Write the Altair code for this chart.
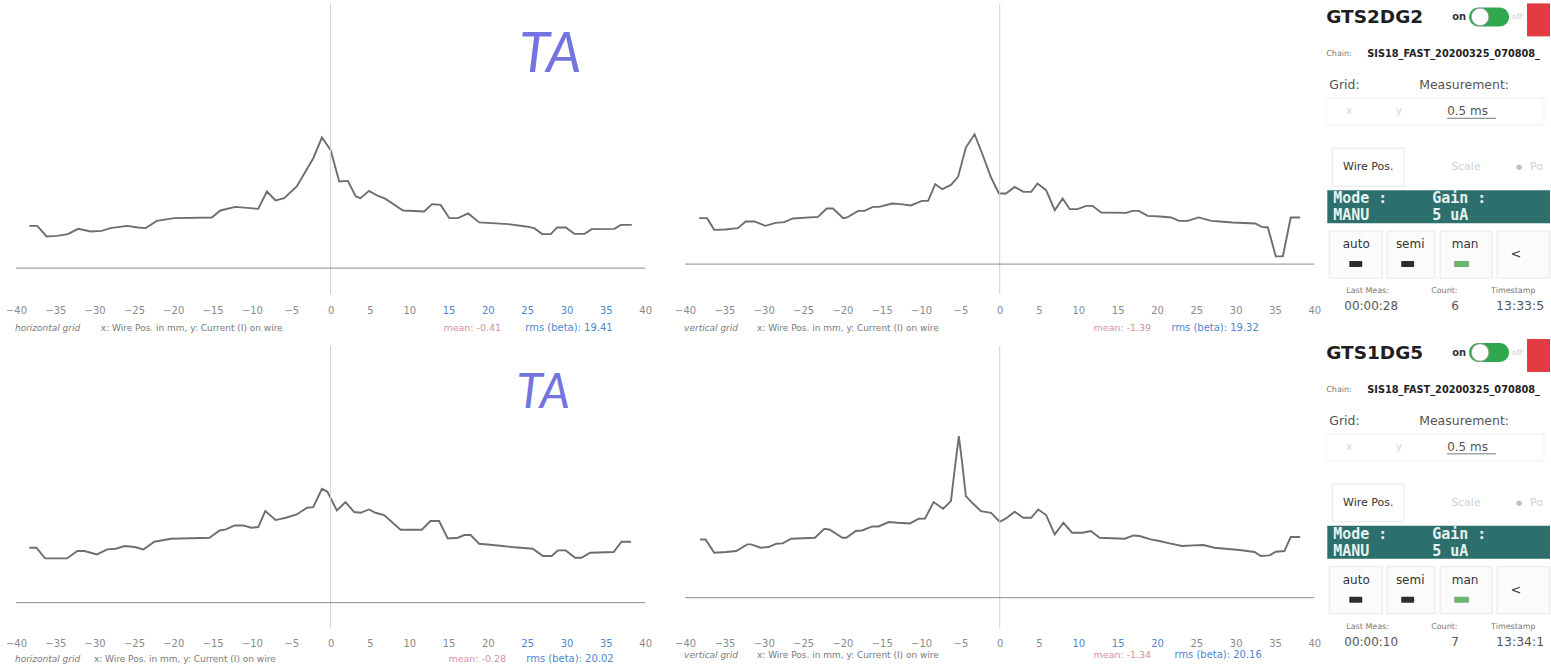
import altair as alt
import pandas as pd

# ---------------- data (read from the scanned profiles) ----------------
TICKS = list(range(-40, 41, 5))

# GTS2DG2 horizontal grid
h1_x = [-38.3, -37.3, -36.1, -34.8, -33.4, -32.1, -30.5, -29.1, -28.0, -25.9,
        -24.5, -23.5, -22.1, -19.9, -15.1, -14.0, -12.1, -9.2, -8.1, -7.0,
        -5.9, -4.3, -2.2, -1.1, 0.0, 1.1, 2.2, 3.2, 3.8, 4.9,
        5.9, 7.0, 9.2, 11.9, 12.9, 14.0, 15.1, 16.2, 17.5, 18.9,
        22.6, 24.8, 25.9, 26.9, 28.0, 28.8, 29.9, 31.0, 32.3, 33.2,
        36.1, 36.9, 38.3]
h1_y = [42.3, 42.3, 31.7, 32.3, 34.0, 39.3, 36.7, 37.3, 40.0, 42.3,
        40.7, 40.0, 47.3, 50.0, 50.7, 57.7, 61.3, 59.3, 76.7, 67.7,
        70.0, 81.7, 110.0, 130.7, 118.3, 86.7, 87.3, 71.7, 70.0, 77.3,
        72.7, 69.3, 57.7, 56.7, 64.0, 63.3, 50.0, 50.0, 54.7, 45.7,
        44.0, 41.7, 40.0, 34.0, 34.0, 40.7, 40.7, 34.3, 34.3, 39.0,
        39.3, 43.3, 43.3]

# GTS2DG2 vertical grid
v1_x = [-38.2, -37.2, -36.3, -34.9, -33.3, -32.3, -31.2, -29.8, -28.5, -27.4,
        -26.3, -23.1, -22.0, -21.2, -19.9, -19.4, -18.0, -17.2, -16.1, -15.3,
        -13.7, -12.6, -11.3, -9.9, -9.1, -8.2, -7.3, -6.2, -5.3, -4.3,
        -3.2, -2.2, -1.1, -0.1, 0.8, 1.9, 3.0, 4.0, 4.8, 5.9,
        7.0, 8.0, 8.9, 9.9, 11.0, 11.8, 12.9, 16.1, 16.9, 17.7,
        18.8, 20.4, 21.8, 22.8, 23.9, 25.3, 26.9, 28.0, 29.6, 32.5,
        33.3, 34.1, 35.1, 36.0, 37.0, 38.2]
v1_y = [46.0, 46.0, 34.3, 34.7, 36.0, 42.7, 42.7, 38.3, 41.3, 42.0,
        45.7, 47.3, 55.7, 55.7, 46.0, 46.7, 53.3, 53.3, 57.3, 57.3,
        60.7, 60.0, 58.7, 63.3, 63.3, 80.0, 75.0, 79.3, 87.3, 116.7,
        130.0, 110.0, 86.7, 70.7, 70.7, 77.3, 72.3, 72.3, 80.7, 74.0,
        54.0, 65.7, 55.0, 55.0, 58.3, 58.3, 51.7, 51.3, 53.3, 53.3,
        48.3, 47.7, 46.7, 43.3, 43.3, 46.7, 43.3, 42.7, 41.7, 40.7,
        37.3, 36.7, 7.7, 7.7, 46.7, 46.7]

# GTS1DG5 horizontal grid
h2_x = [-38.3, -37.4, -36.3, -33.5, -32.2, -31.3, -29.7, -28.4, -27.3, -26.2,
        -24.9, -23.8, -22.4, -20.3, -15.4, -14.1, -13.3, -12.2, -11.1, -10.1,
        -9.2, -8.3, -7.0, -5.7, -4.3, -3.0, -2.2, -1.1, -0.4, 0.8,
        1.9, 3.0, 3.8, 4.9, 5.7, 6.8, 8.9, 11.6, 12.7, 13.8,
        14.9, 16.2, 17.0, 17.8, 18.9, 21.9, 23.0, 25.7, 27.0, 28.1,
        28.9, 29.9, 31.1, 31.9, 33.0, 36.0, 37.0, 38.2]
h2_y = [55.0, 55.0, 44.3, 44.3, 51.7, 51.7, 48.3, 53.3, 54.0, 56.7,
        55.7, 53.3, 61.0, 64.0, 65.0, 72.3, 73.3, 77.3, 77.3, 75.0,
        75.7, 91.7, 82.7, 85.0, 88.3, 95.0, 95.7, 114.0, 111.0, 92.3,
        100.7, 90.7, 90.0, 93.3, 90.0, 87.7, 73.0, 73.0, 81.7, 81.7,
        64.3, 65.0, 67.7, 67.7, 59.0, 56.7, 55.7, 54.0, 46.7, 46.7,
        52.3, 52.3, 45.0, 45.0, 50.0, 50.7, 61.0, 61.0]

# GTS1DG5 vertical grid
v2_x = [-38.1, -37.4, -36.3, -34.8, -33.5, -32.1, -31.6, -30.4, -29.4, -28.4,
        -27.6, -26.5, -23.5, -22.3, -21.6, -20.0, -19.5, -18.3, -17.5, -16.2,
        -15.4, -14.1, -13.0, -11.4, -10.3, -9.5, -8.4, -7.2, -6.2, -5.7,
        -5.2, -4.8, -4.3, -3.5, -2.4, -1.1, 0.0, 0.8, 1.9, 3.0,
        4.0, 4.9, 5.9, 7.0, 8.1, 9.2, 10.5, 11.6, 12.7, 15.9,
        17.0, 17.8, 19.2, 20.3, 21.6, 23.2, 24.6, 25.9, 27.3, 30.5,
        32.4, 33.2, 34.3, 35.1, 36.2, 37.0, 38.2]
v2_y = [58.3, 58.3, 45.0, 45.7, 46.7, 53.3, 53.3, 50.0, 50.7, 54.0,
        54.3, 59.0, 60.0, 69.0, 68.0, 60.0, 60.0, 66.7, 67.3, 71.3,
        71.3, 75.7, 75.0, 74.3, 79.0, 79.3, 95.7, 89.0, 96.7, 130.0,
        161.7, 136.7, 101.7, 95.0, 86.7, 85.0, 76.0, 79.3, 86.0, 80.0,
        80.0, 88.3, 82.7, 63.3, 75.0, 65.0, 65.0, 66.7, 60.0, 59.0,
        62.3, 61.7, 58.3, 56.7, 54.3, 51.7, 52.3, 52.7, 50.0, 47.7,
        45.7, 41.7, 42.3, 46.0, 46.7, 60.7, 60.7]

grid_names = ["horizontal grid", "vertical grid", "horizontal grid", "vertical grid"]
means = ["mean: -0.41", "mean: -1.39", "mean: -0.28", "mean: -1.34"]
rmss = ["rms (beta): 19.41", "rms (beta): 19.32", "rms (beta): 20.02", "rms (beta): 20.16"]
AXIS_TEXT = "x: Wire Pos. in mm,  y: Current (I) on wire"

dev_names = ["GTS2DG2", "GTS1DG5"]
last_meas = ["00:00:28", "00:00:10"]
counts = ["6", "7"]
stamps = ["13:33:5", "13:34:1"]

# ---------------- styling ----------------
LINE = "#6e6e6e"
GRAY = "#8a8a8a"
BLUE = "#4f86cc"
PINK = "#d4909e"
FONT = "DejaVu Sans"
W = 630
H_TOP, H_BOT = 291, 282
SIDE_X0 = 1355
ONE = pd.DataFrame({"k": [0]})
NOVIEW = alt.ViewBackground(stroke="transparent", strokeWidth=0)


def panel(xs, ys, dom, h, idx, foot_dy, xlab_x, mean_x, rms_x, blue_rng=None, ta=None):
    df = pd.DataFrame({"pos": xs, "cur": ys})
    xsc = alt.Scale(domain=[-40, 40], nice=False, zero=False)
    ysc = alt.Scale(domain=dom, nice=False, zero=False)
    if blue_rng:
        lab_col = {"condition": {"test": f"datum.value >= {blue_rng[0]} && datum.value <= {blue_rng[1]}",
                                 "value": BLUE}, "value": GRAY}
    else:
        lab_col = GRAY
    xaxis = alt.Axis(values=TICKS, domain=False, ticks=False, grid=False, title=None,
                     labelColor=lab_col, labelFontSize=10, labelFont=FONT, labelPadding=11,
                     labelFlush=False, labelOverlap=False)
    line = alt.Chart(df).mark_line(color=LINE, strokeWidth=1.9).encode(
        x=alt.X("pos:Q", scale=xsc, axis=xaxis),
        y=alt.Y("cur:Q", scale=ysc, axis=None),
    )
    vrule = alt.Chart(pd.DataFrame({"pos": [0]})).mark_rule(color="#d2d2d2", strokeWidth=1).encode(
        x=alt.X("pos:Q", scale=xsc, axis=xaxis))
    hrule = alt.Chart(pd.DataFrame({"cur": [0]})).mark_rule(color="#8c8c8c", strokeWidth=1).encode(
        y=alt.Y("cur:Q", scale=ysc, axis=None))

    fy = h + foot_dy
    texts = [
        alt.Chart(ONE).mark_text(text=grid_names[idx], fontSize=9, font=FONT, fontStyle="italic",
                                 color="#7a7a7a", align="left", baseline="middle").encode(
            x=alt.value(-1), y=alt.value(fy)),
        alt.Chart(ONE).mark_text(text=AXIS_TEXT, fontSize=9, font=FONT, color="#7a7a7a",
                                 align="left", baseline="middle").encode(
            x=alt.value(xlab_x), y=alt.value(fy)),
        alt.Chart(ONE).mark_text(text=means[idx], fontSize=9.5, font=FONT, color=PINK,
                                 align="left", baseline="middle").encode(
            x=alt.value(mean_x), y=alt.value(fy)),
        alt.Chart(ONE).mark_text(text=rmss[idx], fontSize=10, font=FONT, color=BLUE,
                                 align="left", baseline="middle").encode(
            x=alt.value(rms_x), y=alt.value(fy)),
    ]
    layers = [line, vrule, hrule] + texts
    if ta:
        layers.append(alt.Chart(ONE).mark_text(text="TA", fontSize=ta[2], font="Lato",
                                               fontStyle="italic", fontWeight=400,
                                               color="#7474e0", align="center", baseline="middle").encode(
            x=alt.value(ta[0]), y=alt.value(ta[1])))
    return alt.layer(*layers).properties(width=W, height=h, view=NOVIEW)


def side(h, oy, dy, k):
    """UI side panel; positions given in page pixels, shifted to the cell origin."""
    def X(v):
        return v - SIDE_X0

    def Y(v):
        return v + dy - oy

    def T(s, x, y, size=11, color="#333", weight="normal", font=FONT, align="left", baseline="middle"):
        return alt.Chart(ONE).mark_text(text=s, fontSize=size, color=color, fontWeight=weight, font=font,
                                        align=align, baseline=baseline).encode(
            x=alt.value(X(x)), y=alt.value(Y(y)))

    def R(x1, x2, y1, y2, fill, stroke=None, r=0, fo=1.0):
        kw = dict(fill=fill, cornerRadius=r, fillOpacity=fo)
        if stroke:
            kw.update(stroke=stroke, strokeWidth=1)
        return alt.Chart(ONE).mark_rect(**kw).encode(
            x=alt.value(X(x1)), x2=alt.value(X(x2)), y=alt.value(Y(y1)), y2=alt.value(Y(y2)))

    L = []
    L.append(R(1528, 1551, 2, 35, "#e23b42"))
    L.append(T(dev_names[k], 1327, 16, size=18.5, color="#1e1e1e", weight="bold"))
    L.append(T("on", 1453, 16, size=10, color="#333", weight="bold"))
    L.append(R(1470, 1510, 6, 25, "#2fa84f", r=9.5))
    L.append(alt.Chart(ONE).mark_circle(size=310, color="white", stroke="#9a9a9a", strokeWidth=1,
                                        opacity=1).encode(x=alt.value(X(1481)), y=alt.value(Y(15.5))))
    L.append(T("off", 1513, 16, size=8, color="#cfcfcf"))
    L.append(T("Chain:", 1327, 53, size=8, color="#777"))
    L.append(T("SIS18_FAST_20200325_070808_", 1368, 53, size=9.8, color="#222", weight="bold"))
    L.append(T("Grid:", 1330, 84, size=12.5, color="#555"))
    L.append(T("Measurement:", 1420, 84, size=12.5, color="#555"))
    L.append(R(1327, 1545, 97, 124, "white", stroke="#f0f0f0"))
    L.append(T("x", 1347, 110, size=10, color="#d4d4d4"))
    L.append(T("y", 1397, 110, size=10, color="#d4d4d4"))
    L.append(T("0.5 ms", 1448, 110, size=12, color="#555"))
    L.append(alt.Chart(ONE).mark_rule(color="#777", strokeWidth=1).encode(
        x=alt.value(X(1448)), x2=alt.value(X(1497)), y=alt.value(Y(117))))
    L.append(R(1333, 1405, 147, 185, "white", stroke="#e8e8e8"))
    L.append(T("Wire Pos.", 1369, 166, size=11, color="#333", align="center"))
    L.append(T("Scale", 1452, 166, size=11, color="#c9d3de"))
    L.append(T("\u25cf", 1517, 166, size=7, color="#c0c0c0"))
    L.append(T("Po", 1531, 166, size=11, color="#d0d0d0"))
    L.append(R(1328, 1551, 189, 222, "#2d6f6d"))
    L.append(T("Mode :", 1334, 197, size=15, color="#e6f2ee", weight="bold", font="DejaVu Sans Mono"))
    L.append(T("Gain :", 1433, 197, size=15, color="#e6f2ee", weight="bold", font="DejaVu Sans Mono"))
    L.append(T("MANU", 1334, 214, size=15, color="#e6f2ee", weight="bold", font="DejaVu Sans Mono"))
    L.append(T("5  uA", 1433, 214, size=15, color="#e6f2ee", weight="bold", font="DejaVu Sans Mono"))
    for (a, b) in [(1330, 1383), (1388, 1436), (1441, 1493), (1498, 1551)]:
        L.append(R(a, b, 230, 277, "#fbfbfb", stroke="#e6e6e6"))
    L.append(T("auto", 1357, 243, size=12, color="#333", align="center"))
    L.append(T("semi", 1411, 243, size=12, color="#333", align="center"))
    L.append(T("man", 1466, 243, size=12, color="#333", align="center"))
    L.append(T("<", 1517, 253, size=13, color="#333", align="center"))
    L.append(R(1350, 1363, 260, 266, "#2e2e2e", r=1))
    L.append(R(1402, 1415, 260, 266, "#2e2e2e", r=1))
    L.append(R(1455, 1470, 260, 266, "#6cb46f", r=1))
    L.append(T("Last Meas:", 1347, 290, size=8, color="#777"))
    L.append(T("Count:", 1432, 290, size=8, color="#777"))
    L.append(T("Timestamp", 1492, 290, size=8, color="#777"))
    L.append(T(last_meas[k], 1345, 305, size=12, color="#555"))
    L.append(T(counts[k], 1452, 305, size=12, color="#555"))
    L.append(T(stamps[k], 1497, 305, size=12.5, color="#555"))
    return alt.layer(*L).properties(width=196, height=h, view=NOVIEW)


p1 = panel(h1_x, h1_y, [-26, 265], H_TOP, 0, 34, 85, 428, 510, blue_rng=(15, 35), ta=(535, 52, 56))
p2 = panel(v1_x, v1_y, [-30, 261], H_TOP, 1, 34, 72, 409, 487)
p3 = panel(h2_x, h2_y, [-25, 257], H_BOT, 2, 31, 78, 433, 511, blue_rng=(25, 35), ta=(528, 48, 48))
p4 = panel(v2_x, v2_y, [-30, 252], H_BOT, 3, 27, 72, 409, 490, blue_rng=(10, 20))
s1 = side(H_TOP, 2, 0, 0)
s2 = side(H_BOT, 345, 336, 1)

chart = alt.concat(
    p1, p2, s1, p3, p4, s2,
    columns=3,
    spacing={"row": 52, "column": 40},
    bounds="flush",
    align="each",
).properties(
    padding={"left": 5, "top": 2, "right": 0, "bottom": 0}
).configure_view(stroke="transparent", strokeWidth=0).configure(background="white")

chart.save("out.html", embed_options={"renderer": "svg", "actions": False})
